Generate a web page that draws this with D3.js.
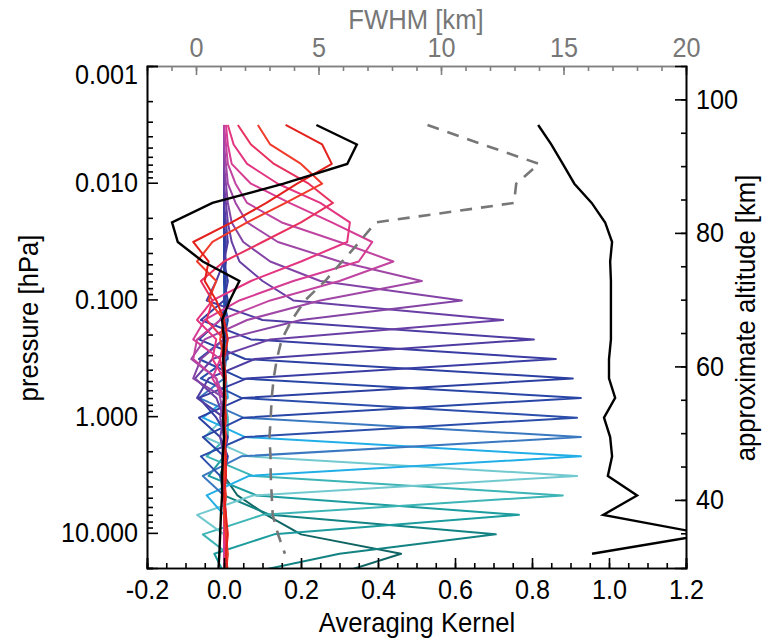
<!DOCTYPE html>
<html>
<head>
<meta charset="utf-8">
<script src="https://cdn.jsdelivr.net/npm/d3@7"></script>
<style>
  body { margin: 0; background: #fff; }
  svg { display: block; font-family: "Liberation Sans", Arial, sans-serif; }
</style>
</head>
<body>
<svg width="770" height="638"></svg>
<script>
// retrieval pressure levels [hPa], top to bottom
const levels = [0.0032, 0.0047, 0.0069, 0.0102, 0.0149, 0.0219, 0.0322, 0.0473, 0.0695, 0.102,
  0.150, 0.220, 0.324, 0.475, 0.698, 1.03, 1.51, 2.21, 3.25, 4.78, 7.01, 10.3, 15.1, 22.2];

// averaging kernel rows, one per level
const kernels = [
  [0.16, 0.255, 0.28, 0.19, 0.11, 0.02, -0.08, -0.04, -0.05, -0.02, 0.0, 0.01, 0.0, 0.005, 0.0, 0.005, 0.0, 0.005, 0.005, 0.0, 0.005, 0.01, 0.005, 0.01],
  [0.088, 0.12, 0.2, 0.255, 0.16, 0.06, -0.03, -0.07, -0.02, -0.04, 0.0, -0.01, 0.0, 0.0, 0.005, 0.0, 0.005, 0.0, 0.0, 0.005, 0.0, 0.005, 0.01, 0.005],
  [0.036, 0.07, 0.13, 0.22, 0.283, 0.2, 0.1, 0.0, -0.06, -0.03, -0.045, 0.0, -0.01, 0.0, 0.0, 0.005, 0.0, 0.0, 0.005, 0.0, 0.0, 0.005, 0.005, 0.0],
  [0.01, 0.025, 0.06, 0.14, 0.25, 0.327, 0.32, 0.2, 0.07, -0.03, -0.07, -0.02, -0.03, 0.0, 0.0, 0.0, 0.005, 0.0, 0.0, 0.0, 0.005, 0.0, 0.005, 0.0],
  [0.005, 0.01, 0.02, 0.07, 0.17, 0.28, 0.385, 0.35, 0.18, 0.04, -0.05, -0.08, -0.01, -0.03, 0.0, 0.0, 0.0, 0.005, 0.0, 0.0, 0.0, 0.0, 0.005, 0.0],
  [0.0, 0.005, 0.01, 0.03, 0.06, 0.15, 0.3, 0.44, 0.3, 0.12, -0.01, -0.07, -0.08, -0.02, 0.0, 0.0, 0.0, 0.0, 0.0, 0.0, 0.0, 0.0, 0.0, 0.0],
  [0.0, 0.0, 0.005, 0.01, 0.03, 0.06, 0.14, 0.3, 0.514, 0.25, 0.06, -0.05, -0.085, -0.02, -0.01, 0.0, 0.0, 0.0, 0.0, 0.0, 0.0, 0.0, 0.0, 0.0],
  [0.0, 0.0, 0.0, 0.005, 0.01, 0.02, 0.05, 0.12, 0.25, 0.618, 0.2, 0.0, -0.06, -0.08, 0.0, -0.01, 0.0, 0.0, 0.0, 0.0, 0.0, 0.0, 0.0, 0.0],
  [0.0, 0.0, 0.0, 0.0, 0.005, 0.01, 0.02, 0.04, 0.1, 0.18, 0.725, 0.12, -0.03, -0.075, -0.02, 0.0, -0.01, 0.0, 0.0, 0.0, 0.0, 0.0, 0.0, 0.0],
  [0.0, 0.0, 0.0, 0.0, 0.0, 0.005, 0.01, 0.0, -0.02, -0.045, 0.1, 0.805, 0.08, -0.04, -0.07, 0.0, 0.0, -0.005, 0.0, 0.0, 0.0, 0.0, 0.0, 0.0],
  [0.0, 0.0, 0.0, 0.0, 0.0, 0.0, 0.005, 0.0, 0.01, 0.0, -0.06, 0.07, 0.862, 0.06, -0.065, -0.02, 0.01, 0.0, 0.0, 0.0, 0.0, 0.0, 0.0, 0.0],
  [0.0, 0.0, 0.0, 0.0, 0.0, 0.0, 0.0, 0.005, 0.0, 0.01, -0.01, -0.065, 0.055, 0.906, 0.05, -0.065, -0.01, 0.01, 0.0, 0.0, 0.0, 0.0, 0.0, 0.0],
  [0.0, 0.0, 0.0, 0.0, 0.0, 0.0, 0.0, 0.0, 0.005, 0.0, 0.01, 0.0, -0.065, 0.045, 0.927, 0.05, -0.055, 0.0, 0.005, 0.0, 0.0, 0.0, 0.0, 0.0],
  [0.0, 0.0, 0.0, 0.0, 0.0, 0.0, 0.0, 0.0, 0.0, 0.005, 0.0, 0.005, 0.01, -0.06, 0.045, 0.917, 0.055, -0.06, -0.01, 0.005, 0.0, 0.0, 0.0, 0.0],
  [0.0, 0.0, 0.0, 0.0, 0.0, 0.0, 0.0, 0.0, 0.0, 0.0, 0.005, 0.0, 0.005, 0.0, -0.065, 0.05, 0.927, 0.045, -0.055, 0.0, 0.005, 0.0, 0.0, 0.0],
  [0.0, 0.0, 0.0, 0.0, 0.0, 0.0, 0.0, 0.0, 0.0, 0.0, 0.0, 0.005, 0.0, 0.005, 0.01, -0.055, 0.055, 0.927, 0.065, -0.045, 0.0, 0.005, 0.0, 0.0],
  [0.0, 0.0, 0.0, 0.0, 0.0, 0.0, 0.0, 0.0, 0.0, 0.0, 0.0, 0.0, 0.005, 0.0, 0.0, 0.0, -0.05, 0.065, 0.917, 0.075, -0.07, 0.0, 0.005, 0.0],
  [0.0, 0.0, 0.0, 0.0, 0.0, 0.0, 0.0, 0.0, 0.0, 0.0, 0.0, 0.0, 0.0, 0.005, 0.0, 0.01, 0.01, -0.045, 0.075, 0.88, 0.1, -0.055, 0.01, 0.0],
  [0.0, 0.0, 0.0, 0.0, 0.0, 0.0, 0.0, 0.0, 0.0, 0.0, 0.0, 0.0, 0.0, 0.0, 0.005, 0.0, 0.005, 0.0, -0.04, 0.085, 0.766, 0.13, -0.025, 0.0],
  [0.0, 0.0, 0.0, 0.0, 0.0, 0.0, 0.0, 0.0, 0.0, 0.0, 0.0, 0.0, 0.0, 0.0, 0.0, 0.005, 0.0, 0.005, -0.01, 0.0, 0.12, 0.706, 0.3, 0.06],
  [0.0, 0.0, 0.0, 0.0, 0.0, 0.0, 0.0, 0.0, 0.0, 0.0, 0.0, 0.0, 0.0, 0.0, 0.0, 0.0, 0.005, 0.0, 0.0, 0.035, 0.11, 0.2, 0.46, 0.3]
];

const kernelColors = ['#e3211c', '#f03b2a', '#e8305e', '#e43580', '#d63c94', '#c044a0', '#a046a6',
  '#8444a6', '#6a3fa5', '#4f3ca3', '#393ca3', '#2c40a2', '#2846a6', '#2a4eaa', '#3a78c0',
  '#22aee6', '#72c9cf', '#3db4b6', '#1c9c9e', '#138282', '#0f6464'];

// row of the top level (left black line)
const topKernel = [0.24, 0.345, 0.32, 0.155, -0.03, -0.135, -0.12, -0.055, 0.04, 0.015, -0.005, 0.0,
  -0.002, 0.0, 0.0, -0.002, 0.0, -0.003, -0.005, -0.005, -0.008, -0.01, -0.012, -0.015];

// measurement response (right black line), levels 0..22
const response = [0.816, 0.85, 0.88, 0.91, 0.955, 0.99, 1.008, 1.003, 1.005, 1.005, 1.005, 1.005, 1.0,
  1.0, 1.016, 0.987, 1.003, 1.008, 0.997, 1.073, 0.985, 1.255, 0.956];

// vertical resolution [km], levels 0..22
const fwhm = [9.45, 11.7, 14.0, 13.07, 12.98, 7.33, 6.67, 5.97, 5.27, 4.45, 3.91, 3.5, 3.3, 3.17, 3.09,
  3.05, 3.0, 3.04, 3.05, 3.09, 3.13, 3.35, 3.63];

const akTicks = [-0.2, 0.0, 0.2, 0.4, 0.6, 0.8, 1.0, 1.2];
const fwhmTicks = [0, 5, 10, 15, 20];
const altTicks = [40, 60, 80, 100];
const pTicks = [0.001, 0.01, 0.1, 1, 10];

const pLeft = 147, pRight = 686, pTop = 66, pBottom = 568;
const squeeze = 0.9; // IDL-style narrow glyphs

const svg = d3.select('svg');

const x = d3.scaleLinear().domain([-0.2, 1.2]).range([pLeft, pRight]);
const xTop = d3.scaleLinear().domain([-2, 20]).range([pLeft, pRight]);
const y = d3.scaleLog().domain([0.001, 20]).range([pTop, pBottom]);
const yAlt = d3.scaleLinear().domain([29.8, 105]).range([pBottom, pTop]);

svg.append('defs').append('clipPath').attr('id', 'plotclip')
  .append('rect').attr('x', pLeft).attr('y', pTop).attr('width', pRight - pLeft).attr('height', pBottom - pTop);

const plot = svg.append('g').attr('clip-path', 'url(#plotclip)');

const line = d3.line().x((d) => d[0]).y((d) => d[1]);

// kernels, drawn bottom first so the upper ones end up on top
for (let k = kernels.length - 1; k >= 0; k--) {
  plot.append('path')
    .attr('d', line(kernels[k].map((v, i) => [x(v), y(levels[i])])))
    .attr('fill', 'none')
    .attr('stroke', kernelColors[k])
    .attr('stroke-width', 2)
    .attr('stroke-linejoin', 'round');
}

plot.append('path')
  .attr('d', line(fwhm.map((v, i) => [xTop(v), y(levels[i])])))
  .attr('fill', 'none')
  .attr('stroke', '#777')
  .attr('stroke-width', 2.6)
  .attr('stroke-dasharray', '12,9');

plot.append('path')
  .attr('d', line(topKernel.map((v, i) => [x(v), y(levels[i])])))
  .attr('fill', 'none')
  .attr('stroke', '#000')
  .attr('stroke-width', 2.4);

plot.append('path')
  .attr('d', line(response.map((v, i) => [x(v), y(levels[i])])))
  .attr('fill', 'none')
  .attr('stroke', '#000')
  .attr('stroke-width', 2.4);

// axes
const tickFont = 28;
const titleFont = 27;
const hyphen = (f) => (d) => f(d).replace('\u2212', '-');

const minorAk = d3.range(-0.2, 1.2001, 0.05).map((d) => +d.toFixed(2));
svg.append('g').attr('transform', `translate(0,${pBottom})`)
  .call(d3.axisBottom(x).tickValues(minorAk).tickSize(-5).tickFormat(''));
svg.append('g').attr('class', 'lab').attr('transform', `translate(0,${pBottom})`)
  .call(d3.axisBottom(x).tickValues(akTicks).tickSize(-10).tickPadding(11).tickFormat(hyphen(d3.format('.1f'))));

const minorF = d3.range(-2, 21, 1);
svg.append('g').attr('class', 'gray').attr('transform', `translate(0,${pTop})`)
  .call(d3.axisTop(xTop).tickValues(minorF).tickSize(-5).tickFormat(''));
svg.append('g').attr('class', 'gray lab').attr('transform', `translate(0,${pTop})`)
  .call(d3.axisTop(xTop).tickValues(fwhmTicks).tickSize(-9).tickPadding(9).tickFormat(d3.format('d')));

const minorP = [];
[0.001, 0.01, 0.1, 1, 10].forEach((b) => {
  for (let m = 2; m <= 9; m++) if (b * m <= 20) minorP.push(b * m);
});
svg.append('g').attr('transform', `translate(${pLeft},0)`)
  .call(d3.axisLeft(y).tickValues(minorP).tickSize(-6).tickFormat(''));
svg.append('g').attr('class', 'lab left').attr('transform', `translate(${pLeft},0)`)
  .call(d3.axisLeft(y).tickValues(pTicks).tickSize(-11).tickPadding(9).tickFormat(d3.format('.3f')));

const minorAlt = d3.range(35, 105, 5);
svg.append('g').attr('transform', `translate(${pRight},0)`)
  .call(d3.axisRight(yAlt).tickValues(minorAlt).tickSize(-5).tickFormat(''));
svg.append('g').attr('class', 'lab right').attr('transform', `translate(${pRight},0)`)
  .call(d3.axisRight(yAlt).tickValues(altTicks).tickSize(-11).tickPadding(12).tickFormat(d3.format('d')));

svg.selectAll('.domain, .tick line').attr('stroke', '#000').attr('stroke-width', 1.6);
svg.selectAll('.gray .domain, .gray .tick line').attr('stroke', '#808080');
svg.selectAll('.lab text')
  .attr('font-size', tickFont)
  .attr('font-family', '"Liberation Sans", Arial, sans-serif')
  .attr('fill', '#000')
  .attr('transform', `scale(${squeeze},1)`);
svg.selectAll('.left text').attr('x', -9 / squeeze);
svg.selectAll('.right text').attr('x', 10 / squeeze);
svg.selectAll('.gray text').attr('fill', '#777');

// the top pressure label sits a bit lower in the original
svg.selectAll('.lab .tick').filter((d) => d === 0.001).select('text').attr('dy', '0.62em');

// titles
const title = (tx, ty, rot, txt, color) =>
  svg.append('text')
    .attr('transform', `translate(${tx},${ty}) rotate(${rot}) scale(0.95,1)`)
    .attr('text-anchor', 'middle')
    .attr('font-size', titleFont)
    .attr('fill', color || '#000')
    .text(txt);

title(417, 632, 0, 'Averaging Kernel');
title(416, 29, 0, 'FWHM [km]', '#777');
title(38, 318, -90, 'pressure [hPa]');
title(755, 318, -90, 'approximate altitude [km]');
</script>
</body>
</html>
